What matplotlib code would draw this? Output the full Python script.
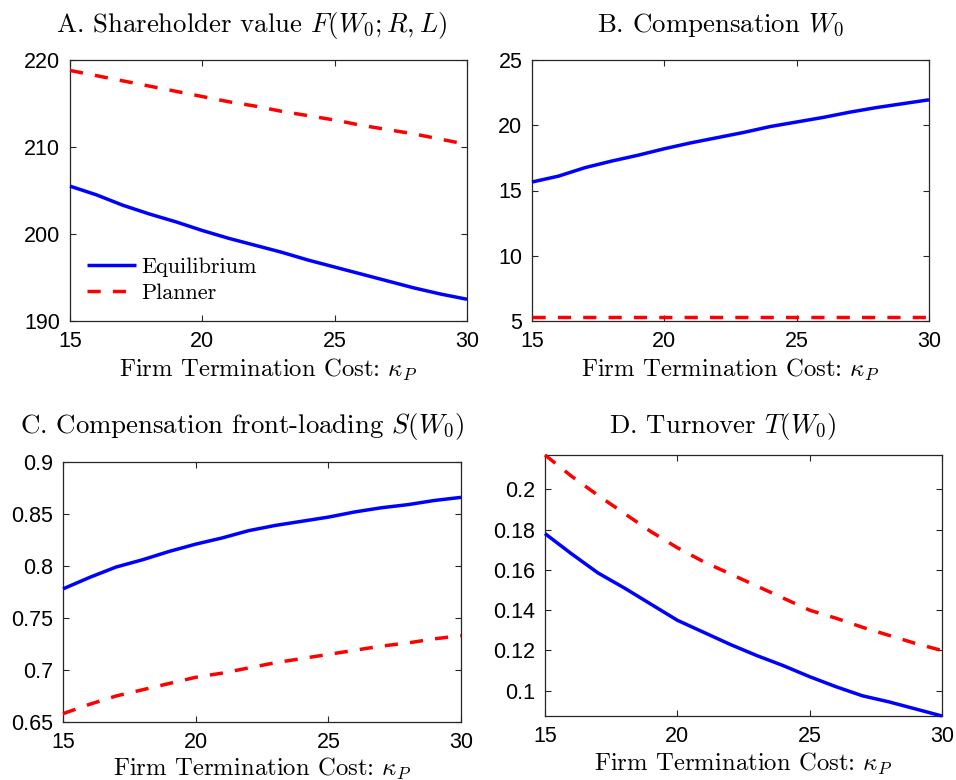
import numpy as np
import matplotlib
matplotlib.use("Agg")
import matplotlib.pyplot as plt

# Firm termination cost grid
kappa_p = [15, 16, 17, 18, 19, 20, 21, 22, 23, 24, 25, 26, 27, 28, 29, 30]

# A. Shareholder value
value_eq = [205.5, 204.5, 203.3, 202.3, 201.4, 200.4, 199.5, 198.7, 197.9,
            197.0, 196.2, 195.4, 194.6, 193.8, 193.1, 192.5]
value_pl = [218.8, 218.2, 217.6, 217.0, 216.4, 215.8, 215.2, 214.7, 214.1,
            213.6, 213.1, 212.5, 212.0, 211.5, 210.9, 210.3]

# B. Compensation W0
comp_eq = [15.65, 16.1, 16.75, 17.25, 17.7, 18.2, 18.65, 19.05, 19.45,
           19.9, 20.25, 20.6, 21.0, 21.35, 21.65, 21.95]
comp_pl = [5.3] * 16

# C. Front-loading S(W0)
front_eq = [0.778, 0.789, 0.799, 0.806, 0.814, 0.821, 0.827, 0.834, 0.839,
            0.843, 0.847, 0.852, 0.856, 0.859, 0.863, 0.866]
front_pl = [0.658, 0.667, 0.675, 0.681, 0.687, 0.693, 0.697, 0.702, 0.707,
            0.711, 0.715, 0.719, 0.723, 0.726, 0.730, 0.733]

# D. Turnover T(W0)
turn_eq = [0.178, 0.168, 0.1585, 0.151, 0.143, 0.135, 0.129, 0.123, 0.1175,
           0.1125, 0.107, 0.102, 0.0975, 0.0945, 0.091, 0.0875]
turn_pl = [0.217, 0.2065, 0.197, 0.188, 0.179, 0.171, 0.164, 0.158, 0.152,
           0.146, 0.140, 0.136, 0.1315, 0.1275, 0.1235, 0.120]

x_ticks = [15, 20, 25, 30]

plt.rcParams["mathtext.fontset"] = "cm"
plt.rcParams["axes.unicode_minus"] = False

W, H = 956, 780
fig = plt.figure(figsize=(W / 100, H / 100), dpi=100)

SERIF = "cmr10"
TICKFONT = "Liberation Sans"
AX_COLOR = "#262626"


def box(l, t, r, b):
    return [l / W, 1 - b / H, (r - l) / W, (b - t) / H]


panels = [
    dict(rect=box(70, 60, 467, 321), eq=value_eq, pl=value_pl,
         ylim=(190, 220), yticks=[190, 200, 210, 220],
         title=r"A. Shareholder value $F(W_0;R,L)$", tx=251.5, ty=32,
         xlab_y=-0.2126, legend=True),
    dict(rect=box(532, 60, 929, 321), eq=comp_eq, pl=comp_pl,
         ylim=(5, 25), yticks=[5, 10, 15, 20, 25],
         title=r"B. Compensation $W_0$", tx=720, ty=32,
         xlab_y=-0.2126, legend=False),
    dict(rect=box(63, 462, 461, 722), eq=front_eq, pl=front_pl,
         ylim=(0.65, 0.9), yticks=[0.65, 0.7, 0.75, 0.8, 0.85, 0.9],
         title=r"C. Compensation front-loading $S(W_0)$", tx=242, ty=433,
         xlab_y=-0.205, legend=False),
    dict(rect=box(545, 455, 942, 716), eq=turn_eq, pl=turn_pl,
         ylim=(min(turn_eq), max(turn_pl)),
         yticks=[0.1, 0.12, 0.14, 0.16, 0.18, 0.2],
         title=r"D. Turnover $T(W_0)$", tx=723, ty=433,
         xlab_y=-0.2096, legend=False),
]


def fmt(v):
    return f"{v:g}"


for p in panels:
    ax = fig.add_axes(p["rect"])
    ax.plot(kappa_p, p["eq"], color=(0, 0, 1), lw=2.5, solid_capstyle="butt",
            label="Equilibrium", clip_on=False, zorder=3)
    ax.plot(kappa_p, p["pl"], color=(1, 0, 0), lw=2.5, ls=(0, (3.8, 3.5)),
            dash_capstyle="butt", label="Planner", clip_on=False, zorder=3)
    ax.set_xlim(15, 30)
    ax.set_ylim(*p["ylim"])
    ax.set_xticks(x_ticks)
    ax.set_xticklabels([fmt(v) for v in x_ticks])
    ax.set_yticks(p["yticks"])
    ax.set_yticklabels([fmt(v) for v in p["yticks"]])
    ax.tick_params(direction="in", length=4, width=0.8, color=AX_COLOR,
                   top=True, right=True, labelsize=15.5, labelcolor="black")
    ax.tick_params(axis="x", pad=7)
    ax.tick_params(axis="y", pad=7)
    for lab in ax.get_xticklabels() + ax.get_yticklabels():
        lab.set_family(TICKFONT)
    for sp in ax.spines.values():
        sp.set_color(AX_COLOR)
        sp.set_linewidth(0.9)
    ax.set_xlabel(r"Firm Termination Cost: $\kappa_P$", family=SERIF,
                  fontsize=17.8, va="baseline")
    ax.xaxis.set_label_coords(0.5, p["xlab_y"])
    fig.text(p["tx"] / W, 1 - p["ty"] / H, p["title"], family=SERIF,
             fontsize=19.3, ha="center", va="baseline")
    if p["legend"]:
        ax.legend(loc="lower left", frameon=False,
                  prop=dict(family=SERIF, size=16),
                  handlelength=2.2, handletextpad=0.25, labelspacing=0.32,
                  borderaxespad=0.0, bbox_to_anchor=(0.02, 0.034))

fig.savefig("out.png", dpi=100)
